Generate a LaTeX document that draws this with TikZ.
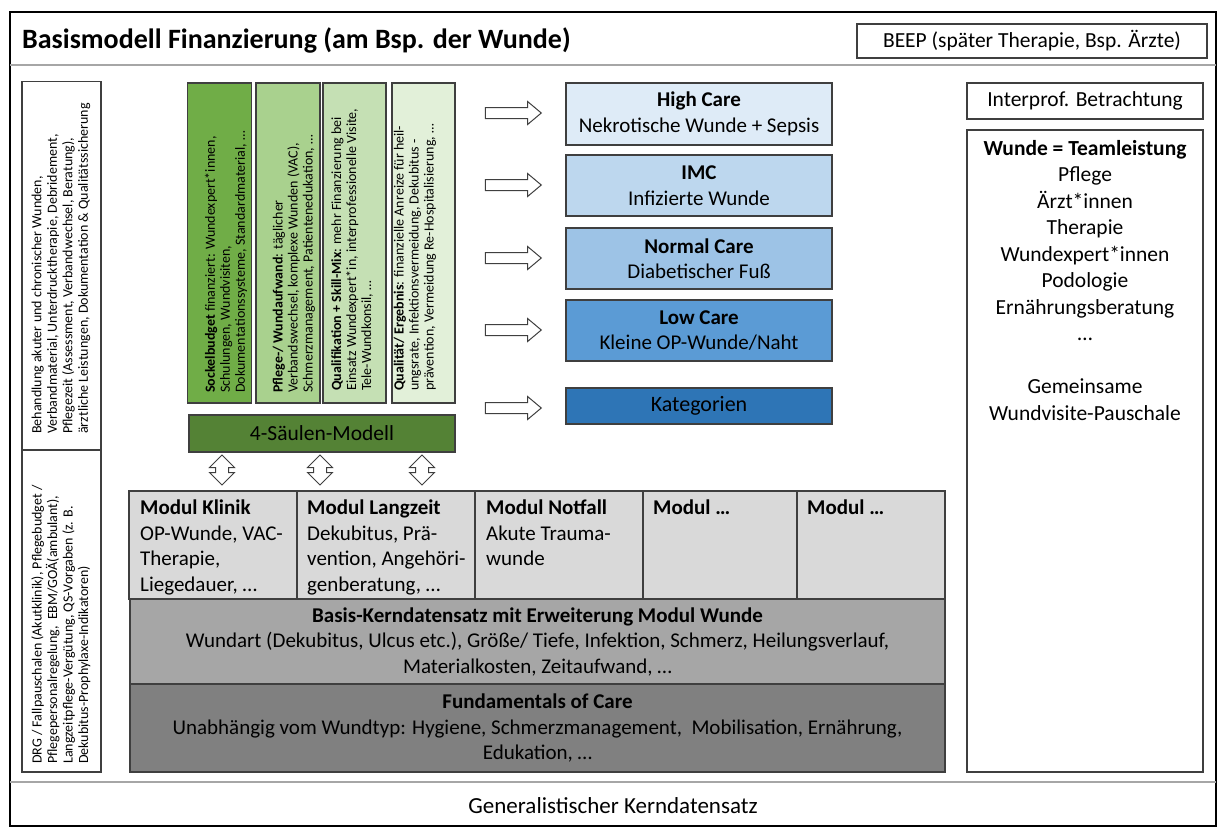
\documentclass[tikz,border=0pt]{standalone}
\usepackage{fontspec}
\setmainfont{Carlito}
\usetikzlibrary{shapes.arrows}
\definecolor{blueA}{HTML}{DEEBF7}
\definecolor{blueB}{HTML}{BDD7EE}
\definecolor{blueC}{HTML}{9DC3E6}
\definecolor{blueD}{HTML}{5B9BD5}
\definecolor{blueE}{HTML}{2E75B6}
\definecolor{greenA}{HTML}{70AD47}
\definecolor{greenB}{HTML}{A9D18E}
\definecolor{greenC}{HTML}{C5E0B4}
\definecolor{greenD}{HTML}{E2F0D9}
\definecolor{greenDark}{HTML}{548235}
\definecolor{grayA}{HTML}{D9D9D9}
\definecolor{grayB}{HTML}{A6A6A6}
\definecolor{grayC}{HTML}{808080}
\definecolor{edge}{HTML}{3F3F3F}
\begin{document}
\begin{tikzpicture}[x=1pt,y=-1pt,
  box/.style={draw=edge, line width=1.2pt, inner sep=0pt},
  bigtxt/.style={font=\fontsize{21}{25.5}\selectfont},
  smalltxt/.style={font=\fontsize{14}{15.5}\selectfont},
  pillartxt/.style={font=\fontsize{14}{15}\selectfont},
  rarrow/.style={draw=edge, line width=1pt, fill=white, shape=single arrow, single arrow head extend=6pt, single arrow tip angle=80, inner sep=5pt, minimum height=56pt, minimum width=22pt},
  varrow/.style={draw=edge, line width=1pt, fill=white, shape=double arrow, double arrow head extend=6pt, double arrow tip angle=90, inner sep=6pt, minimum height=30pt, minimum width=24pt, shape border rotate=90},
  ]
\useasboundingbox (0,0) rectangle (1220,830);
% outer frame
\draw[black, line width=1.5pt] (10,12) rectangle (1216,826);
\draw[gray!70, line width=1.8pt] (10,65) -- (1216,65);
\draw[gray!70, line width=1.8pt] (10,782) -- (1216,782);
% title
\node[anchor=west, inner sep=0pt, font=\fontsize{28}{32}\selectfont\bfseries] (title) at (22,40) {Basismodell Finanzierung (am Bsp. der Wunde)};
\node[box, minimum width=350pt, minimum height=34pt, font=\fontsize{21.5}{25}\selectfont] (beep) at (1032,41) {BEEP (später Therapie, Bsp. Ärzte)};
% left column
\node[box, minimum width=79pt, minimum height=369pt] (lb1) at (61.5,266) {};
\node[box, minimum width=79pt, minimum height=322pt] (lb2) at (61.5,611) {};
\node[smalltxt, rotate=90, anchor=west, align=left, inner sep=0pt] (lt1) at (61,434) {Behandlung akuter und chronischer Wunden,\\Verbandmaterial, Unterdrucktherapie, Debridement,\\Pflegezeit (Assessment, Verbandwechsel, Beratung),\\ärztliche Leistungen, Dokumentation \& Qualitätssicherung};
\node[smalltxt, rotate=90, anchor=west, align=left, inner sep=0pt] (lt2) at (61,764) {DRG / Fallpauschalen (Akutklinik), Pflegebudget /\\Pflegepersonalregelung,\ \ EBM/GOÄ(ambulant),\\Langzeitpflege-Vergütung, QS-Vorgaben (z. B.\\Dekubitus-Prophylaxe-Indikatoren)};
% pillars
\node[box, fill=greenA, minimum width=64pt, minimum height=320pt] (p1) at (219.5,243) {};
\node[box, fill=greenB, minimum width=64pt, minimum height=320pt] (p2) at (288,243) {};
\node[box, fill=greenC, minimum width=63pt, minimum height=320pt] (p3) at (354.5,243) {};
\node[box, fill=greenD, minimum width=63pt, minimum height=320pt] (p4) at (423.5,243) {};
\node[pillartxt, rotate=90, anchor=west, align=left, inner sep=0pt] (pt1) at (226,393) {\textbf{Sockelbudget} finanziert: Wundexpert*innen,\\Schulungen, Wundvisiten,\\Dokumentationssysteme, Standardmaterial, …};
\node[pillartxt, rotate=90, anchor=west, align=left, inner sep=0pt] (pt2) at (294,393) {\textbf{Pflege-/ Wundaufwand}: täglicher\\Verbandswechsel, komplexe Wunden (VAC),\\Schmerzmanagement, Patientenedukation, …};
\node[pillartxt, rotate=90, anchor=west, align=left, inner sep=0pt] (pt3) at (352,391) {\textbf{Qualifikation + Skill-Mix}: mehr Finanzierung bei\\Einsatz Wundexpert*in, interprofessionelle Visite,\\Tele-Wundkonsil, …};
\node[pillartxt, rotate=90, anchor=west, align=left, inner sep=0pt] (pt4) at (415,391) {\textbf{Qualität/ Ergebnis}: finanzielle Anreize für heil-\\ungsrate, Infektionsvermeidung, Dekubitus -\\prävention, Vermeidung Re-Hospitalisierung, …};
\node[box, fill=greenDark, minimum width=266pt, minimum height=37pt, font=\fontsize{21.5}{25}\selectfont] (saeulen) at (322,433.5) {4-Säulen-Modell};
% blue boxes
\node[box, fill=blueA, minimum width=266pt, minimum height=62pt, bigtxt, align=center] (high) at (699,114) {\textbf{High Care}\\Nekrotische Wunde + Sepsis};
\node[box, fill=blueB, minimum width=266pt, minimum height=61pt, bigtxt, align=center] (imc) at (699,185.5) {\textbf{IMC}\\Infizierte Wunde};
\node[box, fill=blueC, minimum width=266pt, minimum height=61pt, bigtxt, align=center] (normal) at (699,258.5) {\textbf{Normal Care}\\Diabetischer Fuß};
\node[box, fill=blueD, minimum width=266pt, minimum height=61pt, bigtxt, align=center] (low) at (699,330.5) {\textbf{Low Care}\\Kleine OP-Wunde/Naht};
\node[box, fill=blueE, minimum width=266pt, minimum height=36pt, font=\fontsize{22}{26}\selectfont] (kat) at (699,406) {Kategorien};
% right arrows
\node[rarrow] (a1) at (510,113) {};
\node[rarrow] (a2) at (510,185) {};
\node[rarrow] (a3) at (510,258) {};
\node[rarrow] (a4) at (510,330) {};
\node[rarrow] (a5) at (510,408) {};
% vertical double arrows
\node[varrow] (v1) at (222,470) {};
\node[varrow] (v2) at (320,470) {};
\node[varrow] (v3) at (422,470) {};
% modules
\node[box, fill=grayA, minimum width=168pt, minimum height=108pt] (m1) at (213,545) {};
\node[box, fill=grayA, minimum width=178pt, minimum height=108pt] (m2) at (386,545) {};
\node[box, fill=grayA, minimum width=168pt, minimum height=108pt] (m3) at (559,545) {};
\node[box, fill=grayA, minimum width=154pt, minimum height=108pt] (m4) at (720,545) {};
\node[box, fill=grayA, minimum width=148pt, minimum height=108pt] (m5) at (871,545) {};
\node[bigtxt, anchor=north west, align=left, inner sep=0pt] (mt1) at (140,500) {\textbf{Modul Klinik}\\OP-Wunde, VAC-\\Therapie,\\Liegedauer, …};
\node[bigtxt, anchor=north west, align=left, inner sep=0pt] (mt2) at (307,500) {\textbf{Modul Langzeit}\\Dekubitus, Prä-\\vention, Angehöri-\\genberatung, …};
\node[bigtxt, anchor=north west, align=left, inner sep=0pt] (mt3) at (486,500) {\textbf{Modul Notfall}\\Akute Trauma-\\wunde};
\node[bigtxt, anchor=north west, align=left, inner sep=0pt] (mt4) at (653,500) {\textbf{Modul …}};
\node[bigtxt, anchor=north west, align=left, inner sep=0pt] (mt5) at (807,500) {\textbf{Modul …}};
% basis + fundamentals
\node[box, fill=grayB, minimum width=815pt, minimum height=85pt, bigtxt, align=center] (basis) at (537.5,641.5) {\textbf{Basis-Kerndatensatz mit Erweiterung Modul Wunde}\\Wundart (Dekubitus, Ulcus etc.), Größe/ Tiefe, Infektion, Schmerz, Heilungsverlauf,\\Materialkosten, Zeitaufwand, …};
\node[box, fill=grayC, minimum width=815pt, minimum height=88pt, bigtxt, align=center] (fund) at (537.5,728) {\textbf{Fundamentals of Care}\\Unabhängig vom Wundtyp: Hygiene, Schmerzmanagement,\ \ Mobilisation, Ernährung,\\Edukation, …};
% right column
\node[box, minimum width=236pt, minimum height=36pt, font=\fontsize{21.5}{25}\selectfont] (inter) at (1085,101) {Interprof. Betrachtung};
\node[box, minimum width=236pt, minimum height=642pt] (team) at (1085,451) {};
\node[font=\fontsize{21.5}{26.5}\selectfont, align=center, anchor=north, inner sep=0pt] (teamtxt) at (1085,140) {\textbf{Wunde = Teamleistung}\\Pflege\\Ärzt*innen\\Therapie\\Wundexpert*innen\\Podologie\\Ernährungsberatung\\…\\[26.5pt]Gemeinsame\\Wundvisite-Pauschale};
% bottom
\node[font=\fontsize{23}{27}\selectfont, inner sep=0pt] (general) at (613,806) {Generalistischer Kerndatensatz};
\end{tikzpicture}
\end{document}
